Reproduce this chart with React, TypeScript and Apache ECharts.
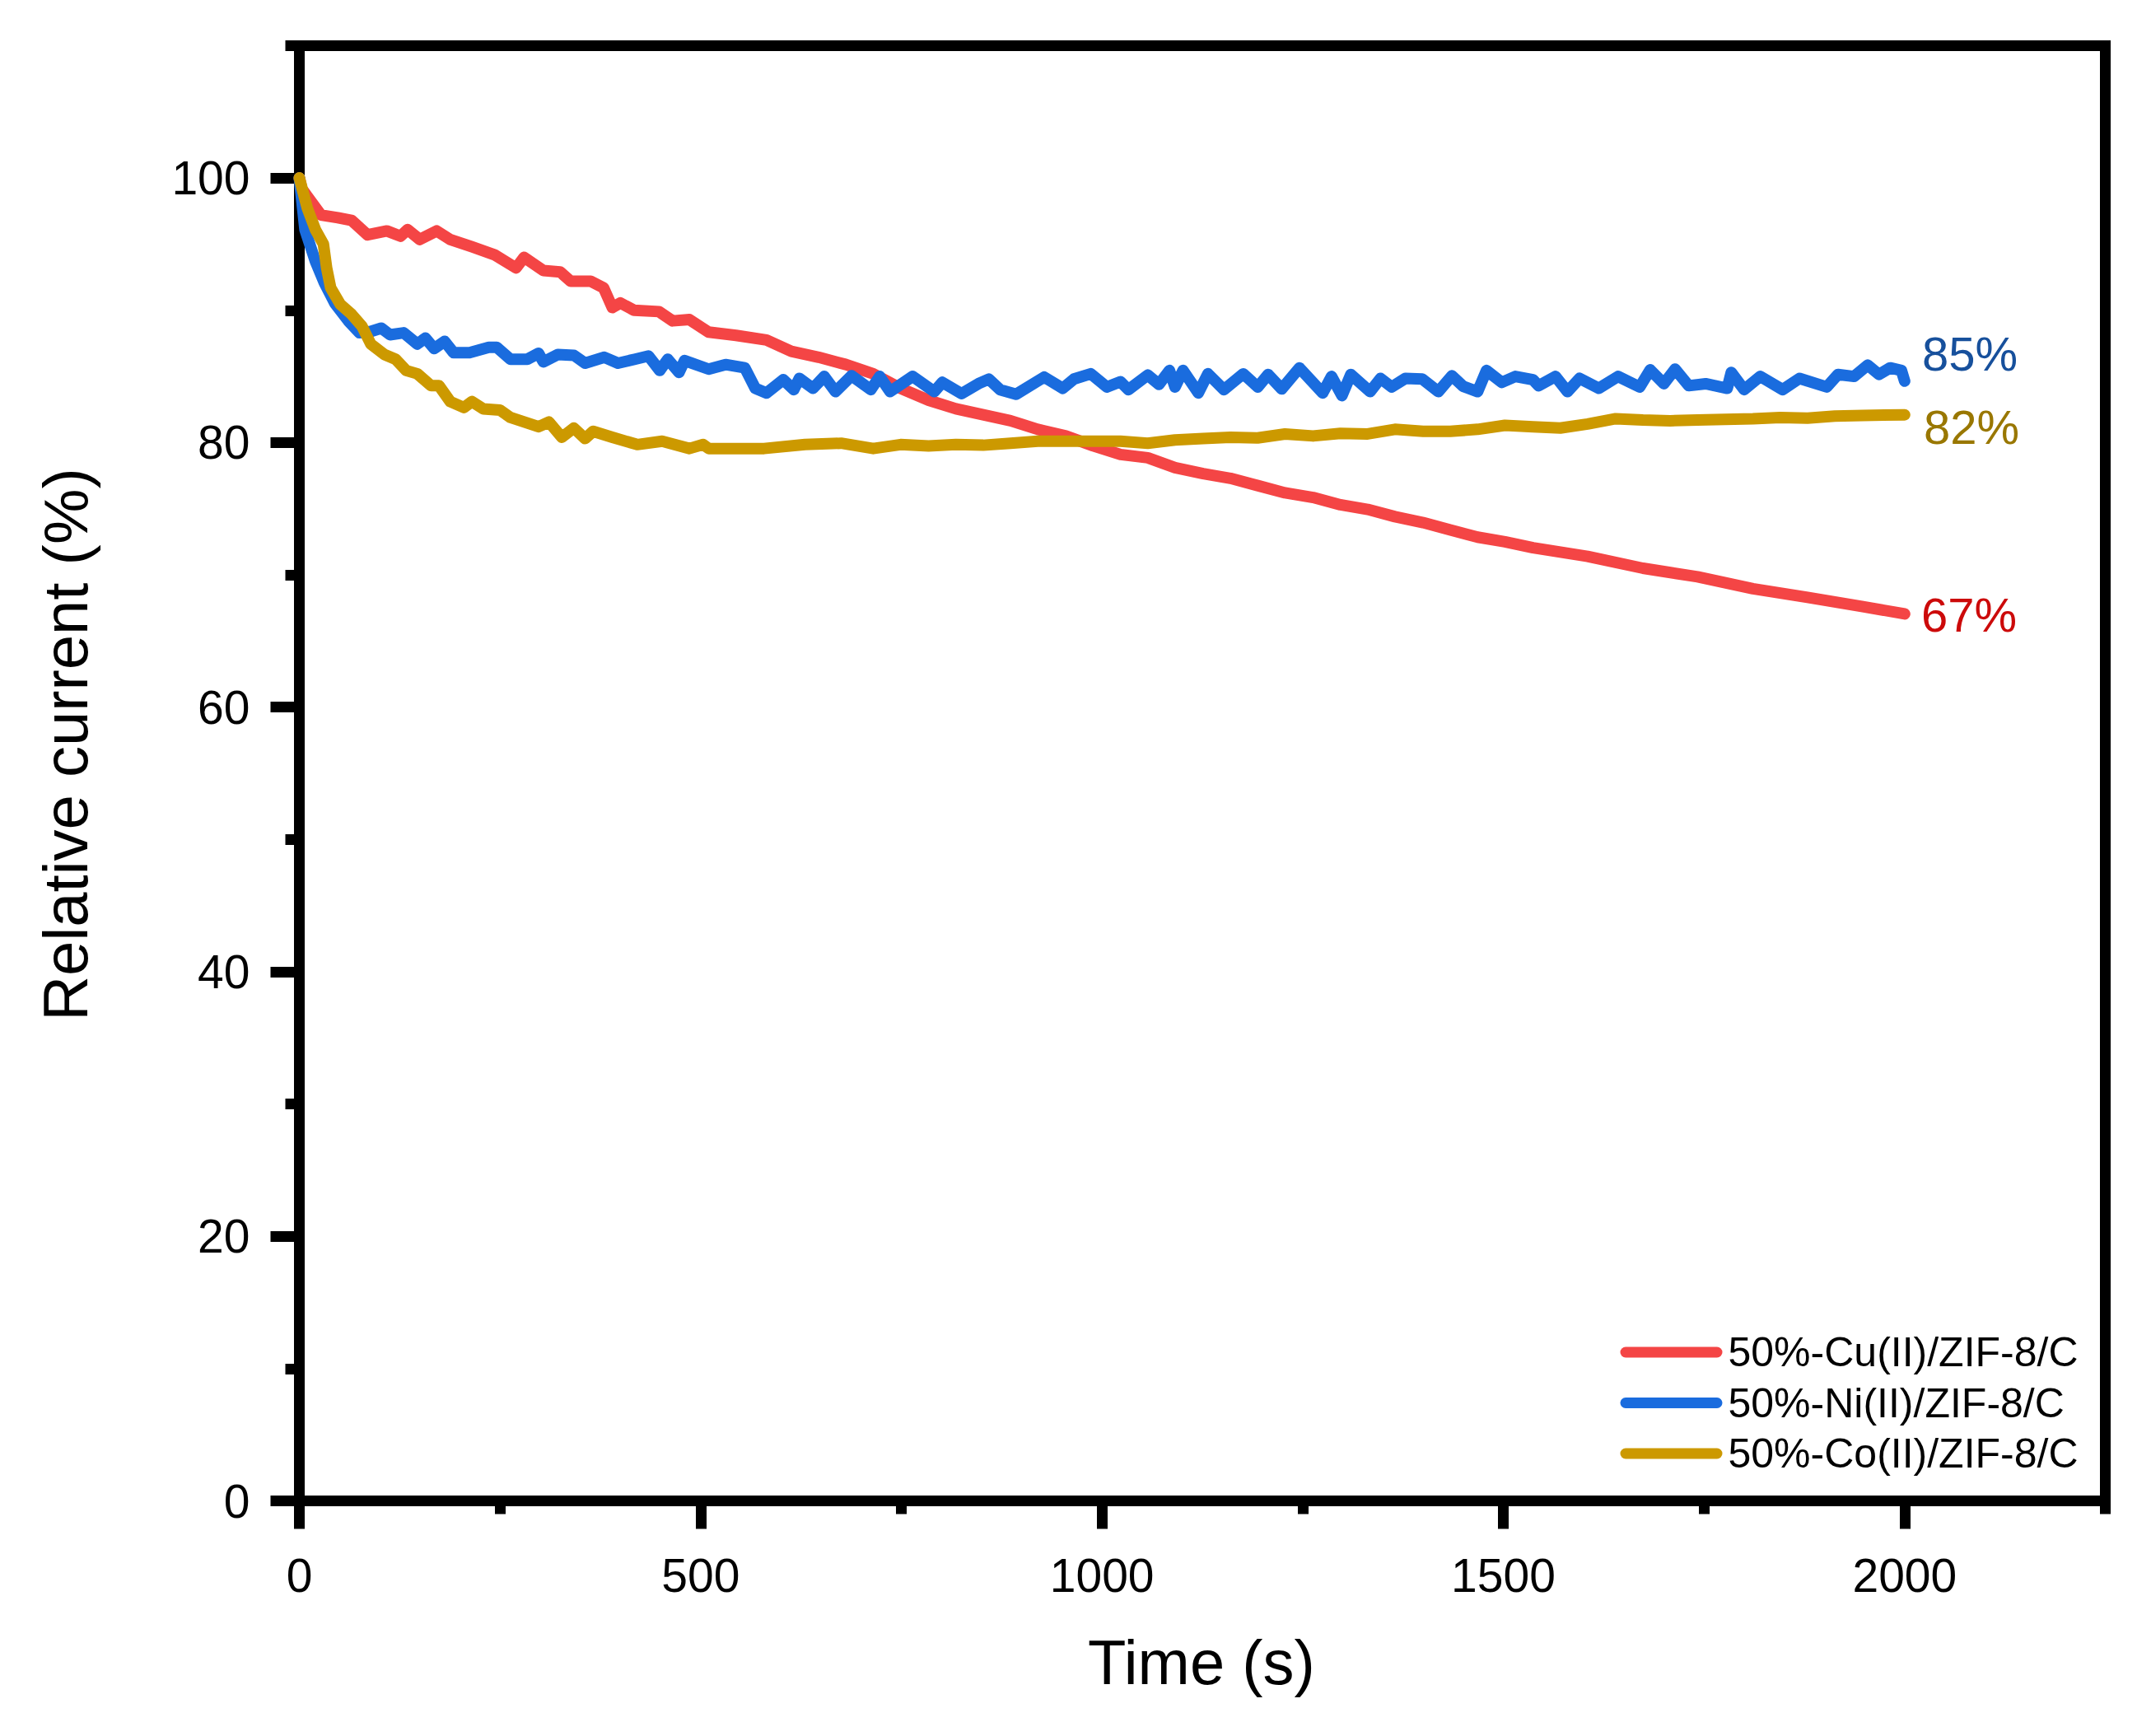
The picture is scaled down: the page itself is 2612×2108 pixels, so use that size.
import React, { useEffect, useRef } from 'react';
import * as echarts from 'echarts';

const FONT = '"Liberation Sans", Arial, Helvetica, sans-serif';

const seriesNames = ['50%-Cu(II)/ZIF-8/C', '50%-Ni(II)/ZIF-8/C', '50%-Co(II)/ZIF-8/C'];
const seriesColors = ['#F44545', '#1A6CDE', '#CC9900'];

const endLabels = ['67%', '85%', '82%'];
const endLabelColors = ['#CC0A0A', '#17509C', '#997700'];

const xTitle = 'Time (s)';
const yTitle = 'Relative current (%)';

// [time (s), relative current (%)]
const cuData: [number, number][] = [
  [0, 100], [3, 99.2], [10, 98.6], [27, 97.2], [48, 97.0], [65, 96.8], [85, 95.7], [109, 96.0],
  [126, 95.6], [135, 96.1], [150, 95.35], [171, 96.0], [188, 95.35], [215, 94.8], [243, 94.2],
  [270, 93.2], [280, 94.0], [304, 93.0], [325, 92.9], [338, 92.2], [363, 92.2], [379, 91.7],
  [390, 90.2], [400, 90.55], [417, 90.0], [448, 89.9], [465, 89.2], [486, 89.3], [510, 88.35],
  [544, 88.1], [582, 87.75], [613, 86.9], [647, 86.45], [681, 85.9], [715, 85.2], [749, 84.1],
  [784, 83.2], [818, 82.55], [852, 82.1], [886, 81.65], [920, 81.0], [955, 80.5], [989, 79.75],
  [1023, 79.1], [1057, 78.85], [1091, 78.1], [1126, 77.65], [1160, 77.3], [1194, 76.75],
  [1228, 76.2], [1263, 75.85], [1297, 75.3], [1331, 74.95], [1365, 74.4], [1400, 73.95],
  [1434, 73.4], [1468, 72.85], [1502, 72.5], [1537, 72.05], [1605, 71.4], [1674, 70.5],
  [1742, 69.85], [1811, 68.95], [1879, 68.3], [1948, 67.6], [2000, 67.05],
];

const niData: [number, number][] = [
  [0, 100], [7, 96.1], [20, 93.7], [31, 92.1], [44, 90.55], [61, 89.2], [75, 88.3], [89, 88.4],
  [102, 88.65], [113, 88.15], [130, 88.3], [147, 87.45], [157, 87.9], [168, 87.1], [181, 87.65],
  [192, 86.8], [212, 86.8], [236, 87.2], [246, 87.2], [263, 86.3], [284, 86.3], [298, 86.75],
  [304, 86.1], [322, 86.65], [342, 86.6], [356, 86.0], [380, 86.45], [397, 86.0], [418, 86.3],
  [435, 86.55], [449, 85.45], [459, 86.3], [473, 85.3], [480, 86.2], [510, 85.55], [531, 85.9],
  [555, 85.65], [568, 84.1], [582, 83.75], [603, 84.75], [616, 84.0], [623, 84.85], [640, 84.1],
  [654, 85.0], [668, 83.85], [688, 85.05], [712, 84.0], [723, 85.0], [736, 83.85], [764, 85.0],
  [791, 83.85], [801, 84.55], [825, 83.7], [846, 84.45], [859, 84.8], [873, 84.0], [893, 83.65],
  [928, 84.95], [951, 84.1], [965, 84.8], [986, 85.2], [1006, 84.2], [1023, 84.6], [1033, 84.0],
  [1057, 85.1], [1071, 84.4], [1084, 85.45], [1091, 84.2], [1101, 85.45], [1120, 83.75],
  [1132, 85.2], [1152, 84.0], [1176, 85.2], [1194, 84.2], [1207, 85.15], [1224, 84.05],
  [1246, 85.65], [1275, 83.75], [1286, 85.0], [1299, 83.55], [1310, 85.15], [1334, 83.85],
  [1347, 84.85], [1361, 84.2], [1378, 84.85], [1399, 84.8], [1419, 83.85], [1436, 85.05],
  [1450, 84.25], [1468, 83.85], [1479, 85.45], [1498, 84.55], [1515, 85.0], [1537, 84.75],
  [1544, 84.3], [1565, 85.0], [1580, 83.85], [1595, 84.85], [1619, 84.1], [1643, 85.0],
  [1670, 84.2], [1683, 85.5], [1700, 84.45], [1714, 85.55], [1731, 84.3], [1752, 84.45],
  [1779, 84.1], [1784, 85.3], [1800, 84.0], [1820, 85.0], [1848, 84.0], [1869, 84.85],
  [1903, 84.2], [1917, 85.15], [1937, 85.0], [1954, 85.85], [1968, 85.15], [1982, 85.65],
  [1996, 85.45], [2000, 84.65],
];

const coData: [number, number][] = [
  [0, 100], [10, 97.7], [20, 96.1], [30, 95.0], [34, 93.2], [39, 91.7], [51, 90.45], [65, 89.7],
  [78, 88.8], [89, 87.45], [106, 86.65], [120, 86.3], [133, 85.45], [147, 85.2], [164, 84.3],
  [174, 84.3], [188, 83.1], [205, 82.65], [215, 83.1], [229, 82.55], [250, 82.45], [263, 81.9],
  [298, 81.2], [311, 81.55], [327, 80.4], [342, 81.1], [356, 80.3], [366, 80.85], [390, 80.4],
  [421, 79.85], [452, 80.1], [486, 79.55], [503, 79.85], [510, 79.55], [579, 79.55], [630, 79.85],
  [675, 79.95], [715, 79.55], [749, 79.85], [784, 79.75], [818, 79.85], [852, 79.8], [886, 79.95],
  [920, 80.1], [955, 80.1], [989, 80.1], [1023, 80.1], [1057, 79.95], [1091, 80.2], [1126, 80.3],
  [1160, 80.4], [1194, 80.35], [1228, 80.65], [1263, 80.5], [1297, 80.7], [1331, 80.65],
  [1365, 81.0], [1400, 80.85], [1434, 80.85], [1468, 81.0], [1502, 81.3], [1537, 81.2],
  [1571, 81.1], [1605, 81.4], [1640, 81.8], [1674, 81.7], [1708, 81.65], [1742, 81.7],
  [1776, 81.75], [1811, 81.8], [1845, 81.9], [1879, 81.85], [1913, 82.0], [1948, 82.05],
  [2000, 82.1],
];

const allData = [cuData, niData, coData];

export default function App() {
  const ref = useRef<HTMLDivElement>(null);

  useEffect(() => {
    if (!ref.current) return;
    const chart = echarts.init(ref.current, null, { renderer: 'svg' });
    const W = 2612;
    const H = 2108;
    const gl = 363.5;
    const gr = 2556.5;
    const gt = 55.5;
    const gb = 1822.5;
    const xMax = 2250;
    const yMax = 110;
    const x2000 = gl + (2000 / xMax) * (gr - gl);
    const y100 = gb - (100 / yMax) * (gb - gt);

    const lineW = 13;
    const majorLen = 34;
    const minorLen = 16;

    const capsule = 'path://M6.5,0 L117.5,0 A6.5,6.5 0 0 1 117.5,13 L6.5,13 A6.5,6.5 0 0 1 6.5,0 Z';
    const plain = (v: number) => String(v);

    chart.setOption({
      animation: false,
      backgroundColor: '#ffffff',
      textStyle: { fontFamily: FONT },
      grid: [
        {
          left: gl, right: W - gr, top: gt, bottom: H - gb,
          show: true, borderColor: '#000', borderWidth: lineW, backgroundColor: 'transparent',
          containLabel: false,
        },
        {
          left: gl, right: W - x2000, top: y100, bottom: H - gb,
          show: false, containLabel: false,
        },
      ],
      xAxis: [
        {
          type: 'value', gridIndex: 0, min: 0, max: xMax, interval: 250,
          axisLine: { show: true, lineStyle: { color: '#000', width: lineW } },
          axisTick: { show: true, inside: false, length: minorLen, lineStyle: { color: '#000', width: lineW } },
          axisLabel: { show: false },
          splitLine: { show: false },
        },
        {
          type: 'value', gridIndex: 1, min: 0, max: 2000, interval: 500,
          axisLine: { show: false },
          axisTick: { show: true, inside: false, length: majorLen, lineStyle: { color: '#000', width: lineW } },
          axisLabel: { show: true, margin: 62, color: '#000', fontSize: 57, fontFamily: FONT, formatter: plain },
          splitLine: { show: false },
        },
      ],
      yAxis: [
        {
          type: 'value', gridIndex: 0, min: 0, max: yMax, interval: 10,
          axisLine: { show: true, lineStyle: { color: '#000', width: lineW } },
          axisTick: { show: true, inside: false, length: minorLen + 1, lineStyle: { color: '#000', width: lineW } },
          axisLabel: { show: false },
          splitLine: { show: false },
        },
        {
          type: 'value', gridIndex: 1, min: 0, max: 100, interval: 20,
          axisLine: { show: false },
          axisTick: { show: true, inside: false, length: majorLen + 1, lineStyle: { color: '#000', width: lineW } },
          axisLabel: { show: true, margin: 60, color: '#000', fontSize: 57, fontFamily: FONT, formatter: plain },
          splitLine: { show: false },
        },
      ],
      legend: {
        show: true,
        orient: 'vertical',
        left: 1962.5,
        top: 1612,
        itemWidth: 124,
        itemHeight: 13,
        itemGap: 11.5,
        icon: capsule,
        itemStyle: { borderWidth: 0 },
        textStyle: { fontSize: 50, lineHeight: 50, color: '#000', fontFamily: FONT, padding: [0, 0, 0, 2] },
        data: seriesNames,
      },
      series: allData.map((d, i) => ({
        name: seriesNames[i],
        type: 'line',
        xAxisIndex: 0,
        yAxisIndex: 0,
        data: d,
        showSymbol: false,
        symbol: 'none',
        color: seriesColors[i],
        lineStyle: { color: seriesColors[i], width: 14, cap: 'round', join: 'round' },
        z: 2 + i,
      })),
      graphic: [
        {
          type: 'text', x: 79, y: 904, rotation: Math.PI / 2,
          style: { text: yTitle, fill: '#000', fontSize: 76, fontFamily: FONT, align: 'center', verticalAlign: 'middle' },
        },
        {
          type: 'text', x: 1459, y: 2018,
          style: { text: xTitle, fill: '#000', fontSize: 76, fontFamily: FONT, align: 'center', verticalAlign: 'middle' },
        },
        {
          type: 'text', x: 2333, y: 746.5,
          style: { text: endLabels[0], fill: endLabelColors[0], fontSize: 58, fontFamily: FONT, align: 'left', verticalAlign: 'middle' },
        },
        {
          type: 'text', x: 2334, y: 429.5,
          style: { text: endLabels[1], fill: endLabelColors[1], fontSize: 58, fontFamily: FONT, align: 'left', verticalAlign: 'middle' },
        },
        {
          type: 'text', x: 2336, y: 518.5,
          style: { text: endLabels[2], fill: endLabelColors[2], fontSize: 58, fontFamily: FONT, align: 'left', verticalAlign: 'middle' },
        },
      ],
    });

    return () => {
      chart.dispose();
    };
  }, []);

  return (
    <div
      ref={ref}
      style={{ position: 'fixed', left: 0, top: 0, width: 2612, height: 2108, background: '#fff' }}
    />
  );
}
